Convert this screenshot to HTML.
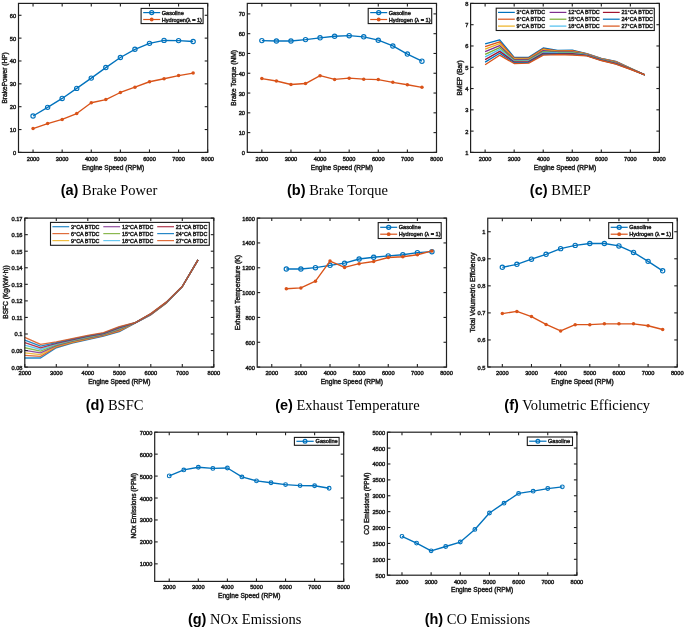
<!DOCTYPE html>
<html><head><meta charset="utf-8"><style>html,body{margin:0;padding:0;background:#fff;}svg{display:block;will-change:transform}</style></head>
<body><svg width="685" height="629" viewBox="0 0 685 629">
<rect width="685" height="629" fill="#fff"/>
<polyline points="33.05,116.03 47.61,107.35 62.16,98.44 76.72,88.38 91.27,78.10 105.82,67.58 120.38,57.53 134.93,49.30 149.48,43.36 164.04,40.39 178.59,40.62 193.15,41.53" fill="none" stroke="#0072BD" stroke-width="1.35" stroke-linejoin="round" stroke-opacity="1"/>
<circle cx="33.05" cy="116.03" r="2.15" fill="none" stroke="#0072BD" stroke-width="1.15"/>
<circle cx="47.61" cy="107.35" r="2.15" fill="none" stroke="#0072BD" stroke-width="1.15"/>
<circle cx="62.16" cy="98.44" r="2.15" fill="none" stroke="#0072BD" stroke-width="1.15"/>
<circle cx="76.72" cy="88.38" r="2.15" fill="none" stroke="#0072BD" stroke-width="1.15"/>
<circle cx="91.27" cy="78.10" r="2.15" fill="none" stroke="#0072BD" stroke-width="1.15"/>
<circle cx="105.82" cy="67.58" r="2.15" fill="none" stroke="#0072BD" stroke-width="1.15"/>
<circle cx="120.38" cy="57.53" r="2.15" fill="none" stroke="#0072BD" stroke-width="1.15"/>
<circle cx="134.93" cy="49.30" r="2.15" fill="none" stroke="#0072BD" stroke-width="1.15"/>
<circle cx="149.48" cy="43.36" r="2.15" fill="none" stroke="#0072BD" stroke-width="1.15"/>
<circle cx="164.04" cy="40.39" r="2.15" fill="none" stroke="#0072BD" stroke-width="1.15"/>
<circle cx="178.59" cy="40.62" r="2.15" fill="none" stroke="#0072BD" stroke-width="1.15"/>
<circle cx="193.15" cy="41.53" r="2.15" fill="none" stroke="#0072BD" stroke-width="1.15"/>
<polyline points="33.05,128.60 47.61,123.58 62.16,119.46 76.72,113.52 91.27,102.78 105.82,99.58 120.38,92.49 134.93,87.24 149.48,81.75 164.04,78.78 178.59,75.58 193.15,73.07" fill="none" stroke="#D95319" stroke-width="1.35" stroke-linejoin="round" stroke-opacity="1"/>
<circle cx="33.05" cy="128.60" r="1.75" fill="#D95319"/>
<circle cx="47.61" cy="123.58" r="1.75" fill="#D95319"/>
<circle cx="62.16" cy="119.46" r="1.75" fill="#D95319"/>
<circle cx="76.72" cy="113.52" r="1.75" fill="#D95319"/>
<circle cx="91.27" cy="102.78" r="1.75" fill="#D95319"/>
<circle cx="105.82" cy="99.58" r="1.75" fill="#D95319"/>
<circle cx="120.38" cy="92.49" r="1.75" fill="#D95319"/>
<circle cx="134.93" cy="87.24" r="1.75" fill="#D95319"/>
<circle cx="149.48" cy="81.75" r="1.75" fill="#D95319"/>
<circle cx="164.04" cy="78.78" r="1.75" fill="#D95319"/>
<circle cx="178.59" cy="75.58" r="1.75" fill="#D95319"/>
<circle cx="193.15" cy="73.07" r="1.75" fill="#D95319"/>
<rect x="18.5" y="3.4" width="189.2" height="149.0" fill="none" stroke="#202020" stroke-width="1.2"/>
<line x1="33.05" y1="152.4" x2="33.05" y2="149.4" stroke="#202020" stroke-width="1.1"/>
<line x1="33.05" y1="3.4" x2="33.05" y2="6.4" stroke="#202020" stroke-width="1.1"/>
<text x="33.05" y="160.60" font-family="Liberation Sans, sans-serif" stroke="#262626" stroke-width="0.45" font-size="5.7" text-anchor="middle" fill="#262626">2000</text>
<line x1="62.16" y1="152.4" x2="62.16" y2="149.4" stroke="#202020" stroke-width="1.1"/>
<line x1="62.16" y1="3.4" x2="62.16" y2="6.4" stroke="#202020" stroke-width="1.1"/>
<text x="62.16" y="160.60" font-family="Liberation Sans, sans-serif" stroke="#262626" stroke-width="0.45" font-size="5.7" text-anchor="middle" fill="#262626">3000</text>
<line x1="91.27" y1="152.4" x2="91.27" y2="149.4" stroke="#202020" stroke-width="1.1"/>
<line x1="91.27" y1="3.4" x2="91.27" y2="6.4" stroke="#202020" stroke-width="1.1"/>
<text x="91.27" y="160.60" font-family="Liberation Sans, sans-serif" stroke="#262626" stroke-width="0.45" font-size="5.7" text-anchor="middle" fill="#262626">4000</text>
<line x1="120.38" y1="152.4" x2="120.38" y2="149.4" stroke="#202020" stroke-width="1.1"/>
<line x1="120.38" y1="3.4" x2="120.38" y2="6.4" stroke="#202020" stroke-width="1.1"/>
<text x="120.38" y="160.60" font-family="Liberation Sans, sans-serif" stroke="#262626" stroke-width="0.45" font-size="5.7" text-anchor="middle" fill="#262626">5000</text>
<line x1="149.48" y1="152.4" x2="149.48" y2="149.4" stroke="#202020" stroke-width="1.1"/>
<line x1="149.48" y1="3.4" x2="149.48" y2="6.4" stroke="#202020" stroke-width="1.1"/>
<text x="149.48" y="160.60" font-family="Liberation Sans, sans-serif" stroke="#262626" stroke-width="0.45" font-size="5.7" text-anchor="middle" fill="#262626">6000</text>
<line x1="178.59" y1="152.4" x2="178.59" y2="149.4" stroke="#202020" stroke-width="1.1"/>
<line x1="178.59" y1="3.4" x2="178.59" y2="6.4" stroke="#202020" stroke-width="1.1"/>
<text x="178.59" y="160.60" font-family="Liberation Sans, sans-serif" stroke="#262626" stroke-width="0.45" font-size="5.7" text-anchor="middle" fill="#262626">7000</text>
<line x1="207.70" y1="152.4" x2="207.70" y2="149.4" stroke="#202020" stroke-width="1.1"/>
<line x1="207.70" y1="3.4" x2="207.70" y2="6.4" stroke="#202020" stroke-width="1.1"/>
<text x="207.70" y="160.60" font-family="Liberation Sans, sans-serif" stroke="#262626" stroke-width="0.45" font-size="5.7" text-anchor="middle" fill="#262626">8000</text>
<line x1="18.5" y1="152.40" x2="21.5" y2="152.40" stroke="#202020" stroke-width="1.1"/>
<line x1="207.7" y1="152.40" x2="204.7" y2="152.40" stroke="#202020" stroke-width="1.1"/>
<text x="16.20" y="154.90" font-family="Liberation Sans, sans-serif" stroke="#262626" stroke-width="0.45" font-size="5.7" text-anchor="end" fill="#262626">0</text>
<line x1="18.5" y1="129.55" x2="21.5" y2="129.55" stroke="#202020" stroke-width="1.1"/>
<line x1="207.7" y1="129.55" x2="204.7" y2="129.55" stroke="#202020" stroke-width="1.1"/>
<text x="16.20" y="132.05" font-family="Liberation Sans, sans-serif" stroke="#262626" stroke-width="0.45" font-size="5.7" text-anchor="end" fill="#262626">10</text>
<line x1="18.5" y1="106.69" x2="21.5" y2="106.69" stroke="#202020" stroke-width="1.1"/>
<line x1="207.7" y1="106.69" x2="204.7" y2="106.69" stroke="#202020" stroke-width="1.1"/>
<text x="16.20" y="109.19" font-family="Liberation Sans, sans-serif" stroke="#262626" stroke-width="0.45" font-size="5.7" text-anchor="end" fill="#262626">20</text>
<line x1="18.5" y1="83.84" x2="21.5" y2="83.84" stroke="#202020" stroke-width="1.1"/>
<line x1="207.7" y1="83.84" x2="204.7" y2="83.84" stroke="#202020" stroke-width="1.1"/>
<text x="16.20" y="86.34" font-family="Liberation Sans, sans-serif" stroke="#262626" stroke-width="0.45" font-size="5.7" text-anchor="end" fill="#262626">30</text>
<line x1="18.5" y1="60.98" x2="21.5" y2="60.98" stroke="#202020" stroke-width="1.1"/>
<line x1="207.7" y1="60.98" x2="204.7" y2="60.98" stroke="#202020" stroke-width="1.1"/>
<text x="16.20" y="63.48" font-family="Liberation Sans, sans-serif" stroke="#262626" stroke-width="0.45" font-size="5.7" text-anchor="end" fill="#262626">40</text>
<line x1="18.5" y1="38.13" x2="21.5" y2="38.13" stroke="#202020" stroke-width="1.1"/>
<line x1="207.7" y1="38.13" x2="204.7" y2="38.13" stroke="#202020" stroke-width="1.1"/>
<text x="16.20" y="40.63" font-family="Liberation Sans, sans-serif" stroke="#262626" stroke-width="0.45" font-size="5.7" text-anchor="end" fill="#262626">50</text>
<line x1="18.5" y1="15.28" x2="21.5" y2="15.28" stroke="#202020" stroke-width="1.1"/>
<line x1="207.7" y1="15.28" x2="204.7" y2="15.28" stroke="#202020" stroke-width="1.1"/>
<text x="16.20" y="17.78" font-family="Liberation Sans, sans-serif" stroke="#262626" stroke-width="0.45" font-size="5.7" text-anchor="end" fill="#262626">60</text>
<text x="113.10" y="169.60" font-family="Liberation Sans, sans-serif" stroke="#262626" stroke-width="0.45" font-size="6.60" letter-spacing="0.000" text-anchor="middle" fill="#262626">Engine Speed (RPM)</text>
<text transform="translate(6.90,77.90) rotate(-90)" x="0" y="0" font-family="Liberation Sans, sans-serif" stroke="#262626" stroke-width="0.45" font-size="6.60" letter-spacing="0.000" text-anchor="middle" fill="#262626">BrakePower (HP)</text>
<rect x="141.1" y="8.4" width="62" height="15.2" fill="#fff" stroke="#1a1a1a" stroke-width="1.1"/>
<line x1="143.2" y1="12.6" x2="160.2" y2="12.6" stroke="#0072BD" stroke-width="1.2" stroke-opacity="1"/>
<circle cx="151.7" cy="12.6" r="2.0" fill="none" stroke="#0072BD" stroke-width="1.3"/>
<text x="161.7" y="14.6" font-family="Liberation Sans, sans-serif" stroke="#262626" stroke-width="0.45" font-size="5.6" fill="#262626">Gasoline</text>
<line x1="143.2" y1="19.5" x2="160.2" y2="19.5" stroke="#D95319" stroke-width="1.2" stroke-opacity="1"/>
<circle cx="151.7" cy="19.5" r="1.9" fill="#D95319"/>
<text x="161.7" y="21.5" font-family="Liberation Sans, sans-serif" stroke="#262626" stroke-width="0.45" font-size="5.6" fill="#262626">Hydrogen(λ = 1)</text>
<text x="109" y="195" text-anchor="middle" fill="#000"><tspan font-family="Liberation Sans, sans-serif" font-weight="bold" font-size="14.5">(a)</tspan><tspan font-family="Liberation Serif, serif" font-size="14.5"> Brake Power</tspan></text>
<polyline points="261.85,40.61 276.41,41.00 290.96,41.00 305.52,39.62 320.07,37.84 334.62,36.25 349.18,35.66 363.73,36.85 378.28,40.21 392.84,45.95 407.39,54.06 421.95,61.19" fill="none" stroke="#0072BD" stroke-width="1.35" stroke-linejoin="round" stroke-opacity="1"/>
<circle cx="261.85" cy="40.61" r="2.15" fill="none" stroke="#0072BD" stroke-width="1.15"/>
<circle cx="276.41" cy="41.00" r="2.15" fill="none" stroke="#0072BD" stroke-width="1.15"/>
<circle cx="290.96" cy="41.00" r="2.15" fill="none" stroke="#0072BD" stroke-width="1.15"/>
<circle cx="305.52" cy="39.62" r="2.15" fill="none" stroke="#0072BD" stroke-width="1.15"/>
<circle cx="320.07" cy="37.84" r="2.15" fill="none" stroke="#0072BD" stroke-width="1.15"/>
<circle cx="334.62" cy="36.25" r="2.15" fill="none" stroke="#0072BD" stroke-width="1.15"/>
<circle cx="349.18" cy="35.66" r="2.15" fill="none" stroke="#0072BD" stroke-width="1.15"/>
<circle cx="363.73" cy="36.85" r="2.15" fill="none" stroke="#0072BD" stroke-width="1.15"/>
<circle cx="378.28" cy="40.21" r="2.15" fill="none" stroke="#0072BD" stroke-width="1.15"/>
<circle cx="392.84" cy="45.95" r="2.15" fill="none" stroke="#0072BD" stroke-width="1.15"/>
<circle cx="407.39" cy="54.06" r="2.15" fill="none" stroke="#0072BD" stroke-width="1.15"/>
<circle cx="421.95" cy="61.19" r="2.15" fill="none" stroke="#0072BD" stroke-width="1.15"/>
<polyline points="261.85,78.60 276.41,80.97 290.96,84.53 305.52,83.54 320.07,75.63 334.62,79.39 349.18,78.20 363.73,79.19 378.28,79.59 392.84,82.36 407.39,84.73 421.95,87.30" fill="none" stroke="#D95319" stroke-width="1.35" stroke-linejoin="round" stroke-opacity="1"/>
<circle cx="261.85" cy="78.60" r="1.75" fill="#D95319"/>
<circle cx="276.41" cy="80.97" r="1.75" fill="#D95319"/>
<circle cx="290.96" cy="84.53" r="1.75" fill="#D95319"/>
<circle cx="305.52" cy="83.54" r="1.75" fill="#D95319"/>
<circle cx="320.07" cy="75.63" r="1.75" fill="#D95319"/>
<circle cx="334.62" cy="79.39" r="1.75" fill="#D95319"/>
<circle cx="349.18" cy="78.20" r="1.75" fill="#D95319"/>
<circle cx="363.73" cy="79.19" r="1.75" fill="#D95319"/>
<circle cx="378.28" cy="79.59" r="1.75" fill="#D95319"/>
<circle cx="392.84" cy="82.36" r="1.75" fill="#D95319"/>
<circle cx="407.39" cy="84.73" r="1.75" fill="#D95319"/>
<circle cx="421.95" cy="87.30" r="1.75" fill="#D95319"/>
<rect x="247.3" y="3.4" width="189.2" height="149.0" fill="none" stroke="#202020" stroke-width="1.2"/>
<line x1="261.85" y1="152.4" x2="261.85" y2="149.4" stroke="#202020" stroke-width="1.1"/>
<line x1="261.85" y1="3.4" x2="261.85" y2="6.4" stroke="#202020" stroke-width="1.1"/>
<text x="261.85" y="160.60" font-family="Liberation Sans, sans-serif" stroke="#262626" stroke-width="0.45" font-size="5.7" text-anchor="middle" fill="#262626">2000</text>
<line x1="290.96" y1="152.4" x2="290.96" y2="149.4" stroke="#202020" stroke-width="1.1"/>
<line x1="290.96" y1="3.4" x2="290.96" y2="6.4" stroke="#202020" stroke-width="1.1"/>
<text x="290.96" y="160.60" font-family="Liberation Sans, sans-serif" stroke="#262626" stroke-width="0.45" font-size="5.7" text-anchor="middle" fill="#262626">3000</text>
<line x1="320.07" y1="152.4" x2="320.07" y2="149.4" stroke="#202020" stroke-width="1.1"/>
<line x1="320.07" y1="3.4" x2="320.07" y2="6.4" stroke="#202020" stroke-width="1.1"/>
<text x="320.07" y="160.60" font-family="Liberation Sans, sans-serif" stroke="#262626" stroke-width="0.45" font-size="5.7" text-anchor="middle" fill="#262626">4000</text>
<line x1="349.18" y1="152.4" x2="349.18" y2="149.4" stroke="#202020" stroke-width="1.1"/>
<line x1="349.18" y1="3.4" x2="349.18" y2="6.4" stroke="#202020" stroke-width="1.1"/>
<text x="349.18" y="160.60" font-family="Liberation Sans, sans-serif" stroke="#262626" stroke-width="0.45" font-size="5.7" text-anchor="middle" fill="#262626">5000</text>
<line x1="378.28" y1="152.4" x2="378.28" y2="149.4" stroke="#202020" stroke-width="1.1"/>
<line x1="378.28" y1="3.4" x2="378.28" y2="6.4" stroke="#202020" stroke-width="1.1"/>
<text x="378.28" y="160.60" font-family="Liberation Sans, sans-serif" stroke="#262626" stroke-width="0.45" font-size="5.7" text-anchor="middle" fill="#262626">6000</text>
<line x1="407.39" y1="152.4" x2="407.39" y2="149.4" stroke="#202020" stroke-width="1.1"/>
<line x1="407.39" y1="3.4" x2="407.39" y2="6.4" stroke="#202020" stroke-width="1.1"/>
<text x="407.39" y="160.60" font-family="Liberation Sans, sans-serif" stroke="#262626" stroke-width="0.45" font-size="5.7" text-anchor="middle" fill="#262626">7000</text>
<line x1="436.50" y1="152.4" x2="436.50" y2="149.4" stroke="#202020" stroke-width="1.1"/>
<line x1="436.50" y1="3.4" x2="436.50" y2="6.4" stroke="#202020" stroke-width="1.1"/>
<text x="436.50" y="160.60" font-family="Liberation Sans, sans-serif" stroke="#262626" stroke-width="0.45" font-size="5.7" text-anchor="middle" fill="#262626">8000</text>
<line x1="247.3" y1="152.40" x2="250.3" y2="152.40" stroke="#202020" stroke-width="1.1"/>
<line x1="436.5" y1="152.40" x2="433.5" y2="152.40" stroke="#202020" stroke-width="1.1"/>
<text x="245.00" y="154.90" font-family="Liberation Sans, sans-serif" stroke="#262626" stroke-width="0.45" font-size="5.7" text-anchor="end" fill="#262626">0</text>
<line x1="247.3" y1="132.61" x2="250.3" y2="132.61" stroke="#202020" stroke-width="1.1"/>
<line x1="436.5" y1="132.61" x2="433.5" y2="132.61" stroke="#202020" stroke-width="1.1"/>
<text x="245.00" y="135.11" font-family="Liberation Sans, sans-serif" stroke="#262626" stroke-width="0.45" font-size="5.7" text-anchor="end" fill="#262626">10</text>
<line x1="247.3" y1="112.83" x2="250.3" y2="112.83" stroke="#202020" stroke-width="1.1"/>
<line x1="436.5" y1="112.83" x2="433.5" y2="112.83" stroke="#202020" stroke-width="1.1"/>
<text x="245.00" y="115.33" font-family="Liberation Sans, sans-serif" stroke="#262626" stroke-width="0.45" font-size="5.7" text-anchor="end" fill="#262626">20</text>
<line x1="247.3" y1="93.04" x2="250.3" y2="93.04" stroke="#202020" stroke-width="1.1"/>
<line x1="436.5" y1="93.04" x2="433.5" y2="93.04" stroke="#202020" stroke-width="1.1"/>
<text x="245.00" y="95.54" font-family="Liberation Sans, sans-serif" stroke="#262626" stroke-width="0.45" font-size="5.7" text-anchor="end" fill="#262626">30</text>
<line x1="247.3" y1="73.25" x2="250.3" y2="73.25" stroke="#202020" stroke-width="1.1"/>
<line x1="436.5" y1="73.25" x2="433.5" y2="73.25" stroke="#202020" stroke-width="1.1"/>
<text x="245.00" y="75.75" font-family="Liberation Sans, sans-serif" stroke="#262626" stroke-width="0.45" font-size="5.7" text-anchor="end" fill="#262626">40</text>
<line x1="247.3" y1="53.47" x2="250.3" y2="53.47" stroke="#202020" stroke-width="1.1"/>
<line x1="436.5" y1="53.47" x2="433.5" y2="53.47" stroke="#202020" stroke-width="1.1"/>
<text x="245.00" y="55.97" font-family="Liberation Sans, sans-serif" stroke="#262626" stroke-width="0.45" font-size="5.7" text-anchor="end" fill="#262626">50</text>
<line x1="247.3" y1="33.68" x2="250.3" y2="33.68" stroke="#202020" stroke-width="1.1"/>
<line x1="436.5" y1="33.68" x2="433.5" y2="33.68" stroke="#202020" stroke-width="1.1"/>
<text x="245.00" y="36.18" font-family="Liberation Sans, sans-serif" stroke="#262626" stroke-width="0.45" font-size="5.7" text-anchor="end" fill="#262626">60</text>
<line x1="247.3" y1="13.89" x2="250.3" y2="13.89" stroke="#202020" stroke-width="1.1"/>
<line x1="436.5" y1="13.89" x2="433.5" y2="13.89" stroke="#202020" stroke-width="1.1"/>
<text x="245.00" y="16.39" font-family="Liberation Sans, sans-serif" stroke="#262626" stroke-width="0.45" font-size="5.7" text-anchor="end" fill="#262626">70</text>
<text x="341.90" y="169.60" font-family="Liberation Sans, sans-serif" stroke="#262626" stroke-width="0.45" font-size="6.60" letter-spacing="0.000" text-anchor="middle" fill="#262626">Engine Speed (RPM)</text>
<text transform="translate(236.00,77.90) rotate(-90)" x="0" y="0" font-family="Liberation Sans, sans-serif" stroke="#262626" stroke-width="0.45" font-size="6.60" letter-spacing="0.000" text-anchor="middle" fill="#262626">Brake Torque (NM)</text>
<rect x="368.2" y="8.4" width="63.5" height="15.2" fill="#fff" stroke="#1a1a1a" stroke-width="1.1"/>
<line x1="370.2" y1="12.6" x2="387.2" y2="12.6" stroke="#0072BD" stroke-width="1.2" stroke-opacity="1"/>
<circle cx="378.7" cy="12.6" r="2.0" fill="none" stroke="#0072BD" stroke-width="1.3"/>
<text x="388.7" y="14.6" font-family="Liberation Sans, sans-serif" stroke="#262626" stroke-width="0.45" font-size="5.6" fill="#262626">Gasoline</text>
<line x1="370.2" y1="19.5" x2="387.2" y2="19.5" stroke="#D95319" stroke-width="1.2" stroke-opacity="1"/>
<circle cx="378.7" cy="19.5" r="1.9" fill="#D95319"/>
<text x="388.7" y="21.5" font-family="Liberation Sans, sans-serif" stroke="#262626" stroke-width="0.45" font-size="5.6" fill="#262626">Hydrogen (λ = 1)</text>
<text x="337.5" y="195" text-anchor="middle" fill="#000"><tspan font-family="Liberation Sans, sans-serif" font-weight="bold" font-size="14.5">(b)</tspan><tspan font-family="Liberation Serif, serif" font-size="14.5"> Brake Torque</tspan></text>
<polyline points="485.12,43.92 499.65,39.87 514.17,57.33 528.69,57.33 543.22,47.96 557.74,50.52 572.26,50.09 586.78,53.71 601.31,58.39 615.83,61.37 630.35,68.18 644.88,74.78" fill="none" stroke="#0072BD" stroke-width="1.35" stroke-linejoin="round" stroke-opacity="1"/>
<polyline points="485.12,46.52 499.65,41.79 514.17,58.10 528.69,58.05 543.22,48.87 557.74,51.02 572.26,50.70 586.78,53.97 601.31,58.66 615.83,61.72 630.35,68.32 644.88,74.78" fill="none" stroke="#D95319" stroke-width="1.35" stroke-linejoin="round" stroke-opacity="1"/>
<polyline points="485.12,49.13 499.65,43.70 514.17,58.87 528.69,58.76 543.22,49.77 557.74,51.53 572.26,51.31 586.78,54.24 601.31,58.92 615.83,62.06 630.35,68.45 644.88,74.78" fill="none" stroke="#EDB120" stroke-width="1.35" stroke-linejoin="round" stroke-opacity="1"/>
<polyline points="485.12,51.74 499.65,45.62 514.17,59.64 528.69,59.48 543.22,50.68 557.74,52.03 572.26,51.93 586.78,54.51 601.31,59.19 615.83,62.41 630.35,68.58 644.88,74.78" fill="none" stroke="#7E2F8E" stroke-width="1.35" stroke-linejoin="round" stroke-opacity="1"/>
<polyline points="485.12,54.35 499.65,47.54 514.17,60.41 528.69,60.20 543.22,51.58 557.74,52.54 572.26,52.54 586.78,54.77 601.31,59.46 615.83,62.76 630.35,68.72 644.88,74.78" fill="none" stroke="#77AC30" stroke-width="1.35" stroke-linejoin="round" stroke-opacity="1"/>
<polyline points="485.12,56.95 499.65,49.45 514.17,61.19 528.69,60.92 543.22,52.48 557.74,53.04 572.26,53.15 586.78,55.04 601.31,59.72 615.83,63.10 630.35,68.85 644.88,74.78" fill="none" stroke="#4DBEEE" stroke-width="1.35" stroke-linejoin="round" stroke-opacity="1"/>
<polyline points="485.12,59.56 499.65,51.37 514.17,61.96 528.69,61.64 543.22,53.39 557.74,53.55 572.26,53.76 586.78,55.31 601.31,59.99 615.83,63.45 630.35,68.98 644.88,74.78" fill="none" stroke="#A2142F" stroke-width="1.35" stroke-linejoin="round" stroke-opacity="1"/>
<polyline points="485.12,62.17 499.65,53.28 514.17,62.73 528.69,62.36 543.22,54.29 557.74,54.05 572.26,54.37 586.78,55.57 601.31,60.25 615.83,63.79 630.35,69.11 644.88,74.78" fill="none" stroke="#0072BD" stroke-width="1.35" stroke-linejoin="round" stroke-opacity="1"/>
<polyline points="485.12,64.78 499.65,55.20 514.17,63.50 528.69,63.07 543.22,55.20 557.74,54.56 572.26,54.99 586.78,55.84 601.31,60.52 615.83,64.14 630.35,69.25 644.88,74.78" fill="none" stroke="#D95319" stroke-width="1.35" stroke-linejoin="round" stroke-opacity="1"/>
<rect x="470.6" y="3.4" width="188.79999999999995" height="149.0" fill="none" stroke="#202020" stroke-width="1.2"/>
<line x1="485.12" y1="152.4" x2="485.12" y2="149.4" stroke="#202020" stroke-width="1.1"/>
<line x1="485.12" y1="3.4" x2="485.12" y2="6.4" stroke="#202020" stroke-width="1.1"/>
<text x="485.12" y="160.60" font-family="Liberation Sans, sans-serif" stroke="#262626" stroke-width="0.45" font-size="5.7" text-anchor="middle" fill="#262626">2000</text>
<line x1="514.17" y1="152.4" x2="514.17" y2="149.4" stroke="#202020" stroke-width="1.1"/>
<line x1="514.17" y1="3.4" x2="514.17" y2="6.4" stroke="#202020" stroke-width="1.1"/>
<text x="514.17" y="160.60" font-family="Liberation Sans, sans-serif" stroke="#262626" stroke-width="0.45" font-size="5.7" text-anchor="middle" fill="#262626">3000</text>
<line x1="543.22" y1="152.4" x2="543.22" y2="149.4" stroke="#202020" stroke-width="1.1"/>
<line x1="543.22" y1="3.4" x2="543.22" y2="6.4" stroke="#202020" stroke-width="1.1"/>
<text x="543.22" y="160.60" font-family="Liberation Sans, sans-serif" stroke="#262626" stroke-width="0.45" font-size="5.7" text-anchor="middle" fill="#262626">4000</text>
<line x1="572.26" y1="152.4" x2="572.26" y2="149.4" stroke="#202020" stroke-width="1.1"/>
<line x1="572.26" y1="3.4" x2="572.26" y2="6.4" stroke="#202020" stroke-width="1.1"/>
<text x="572.26" y="160.60" font-family="Liberation Sans, sans-serif" stroke="#262626" stroke-width="0.45" font-size="5.7" text-anchor="middle" fill="#262626">5000</text>
<line x1="601.31" y1="152.4" x2="601.31" y2="149.4" stroke="#202020" stroke-width="1.1"/>
<line x1="601.31" y1="3.4" x2="601.31" y2="6.4" stroke="#202020" stroke-width="1.1"/>
<text x="601.31" y="160.60" font-family="Liberation Sans, sans-serif" stroke="#262626" stroke-width="0.45" font-size="5.7" text-anchor="middle" fill="#262626">6000</text>
<line x1="630.35" y1="152.4" x2="630.35" y2="149.4" stroke="#202020" stroke-width="1.1"/>
<line x1="630.35" y1="3.4" x2="630.35" y2="6.4" stroke="#202020" stroke-width="1.1"/>
<text x="630.35" y="160.60" font-family="Liberation Sans, sans-serif" stroke="#262626" stroke-width="0.45" font-size="5.7" text-anchor="middle" fill="#262626">7000</text>
<line x1="659.40" y1="152.4" x2="659.40" y2="149.4" stroke="#202020" stroke-width="1.1"/>
<line x1="659.40" y1="3.4" x2="659.40" y2="6.4" stroke="#202020" stroke-width="1.1"/>
<text x="659.40" y="160.60" font-family="Liberation Sans, sans-serif" stroke="#262626" stroke-width="0.45" font-size="5.7" text-anchor="middle" fill="#262626">8000</text>
<line x1="470.6" y1="152.40" x2="473.6" y2="152.40" stroke="#202020" stroke-width="1.1"/>
<line x1="659.4" y1="152.40" x2="656.4" y2="152.40" stroke="#202020" stroke-width="1.1"/>
<text x="468.30" y="154.90" font-family="Liberation Sans, sans-serif" stroke="#262626" stroke-width="0.45" font-size="5.7" text-anchor="end" fill="#262626">1</text>
<line x1="470.6" y1="131.11" x2="473.6" y2="131.11" stroke="#202020" stroke-width="1.1"/>
<line x1="659.4" y1="131.11" x2="656.4" y2="131.11" stroke="#202020" stroke-width="1.1"/>
<text x="468.30" y="133.61" font-family="Liberation Sans, sans-serif" stroke="#262626" stroke-width="0.45" font-size="5.7" text-anchor="end" fill="#262626">2</text>
<line x1="470.6" y1="109.83" x2="473.6" y2="109.83" stroke="#202020" stroke-width="1.1"/>
<line x1="659.4" y1="109.83" x2="656.4" y2="109.83" stroke="#202020" stroke-width="1.1"/>
<text x="468.30" y="112.33" font-family="Liberation Sans, sans-serif" stroke="#262626" stroke-width="0.45" font-size="5.7" text-anchor="end" fill="#262626">3</text>
<line x1="470.6" y1="88.54" x2="473.6" y2="88.54" stroke="#202020" stroke-width="1.1"/>
<line x1="659.4" y1="88.54" x2="656.4" y2="88.54" stroke="#202020" stroke-width="1.1"/>
<text x="468.30" y="91.04" font-family="Liberation Sans, sans-serif" stroke="#262626" stroke-width="0.45" font-size="5.7" text-anchor="end" fill="#262626">4</text>
<line x1="470.6" y1="67.26" x2="473.6" y2="67.26" stroke="#202020" stroke-width="1.1"/>
<line x1="659.4" y1="67.26" x2="656.4" y2="67.26" stroke="#202020" stroke-width="1.1"/>
<text x="468.30" y="69.76" font-family="Liberation Sans, sans-serif" stroke="#262626" stroke-width="0.45" font-size="5.7" text-anchor="end" fill="#262626">5</text>
<line x1="470.6" y1="45.97" x2="473.6" y2="45.97" stroke="#202020" stroke-width="1.1"/>
<line x1="659.4" y1="45.97" x2="656.4" y2="45.97" stroke="#202020" stroke-width="1.1"/>
<text x="468.30" y="48.47" font-family="Liberation Sans, sans-serif" stroke="#262626" stroke-width="0.45" font-size="5.7" text-anchor="end" fill="#262626">6</text>
<line x1="470.6" y1="24.69" x2="473.6" y2="24.69" stroke="#202020" stroke-width="1.1"/>
<line x1="659.4" y1="24.69" x2="656.4" y2="24.69" stroke="#202020" stroke-width="1.1"/>
<text x="468.30" y="27.19" font-family="Liberation Sans, sans-serif" stroke="#262626" stroke-width="0.45" font-size="5.7" text-anchor="end" fill="#262626">7</text>
<line x1="470.6" y1="3.40" x2="473.6" y2="3.40" stroke="#202020" stroke-width="1.1"/>
<line x1="659.4" y1="3.40" x2="656.4" y2="3.40" stroke="#202020" stroke-width="1.1"/>
<text x="468.30" y="5.90" font-family="Liberation Sans, sans-serif" stroke="#262626" stroke-width="0.45" font-size="5.7" text-anchor="end" fill="#262626">8</text>
<text x="565.00" y="169.60" font-family="Liberation Sans, sans-serif" stroke="#262626" stroke-width="0.45" font-size="6.60" letter-spacing="0.000" text-anchor="middle" fill="#262626">Engine Speed (RPM)</text>
<text transform="translate(462.00,77.90) rotate(-90)" x="0" y="0" font-family="Liberation Sans, sans-serif" stroke="#262626" stroke-width="0.45" font-size="6.60" letter-spacing="0.000" text-anchor="middle" fill="#262626">BMEP (Bar)</text>
<rect x="496.2" y="8.2" width="158.1" height="22.3" fill="#fff" stroke="#1a1a1a" stroke-width="1.1"/>
<line x1="498.0" y1="12.4" x2="514.8" y2="12.4" stroke="#0072BD" stroke-width="1.2" stroke-opacity="1"/>
<text x="516.5999999999999" y="14.4" font-family="Liberation Sans, sans-serif" stroke="#262626" stroke-width="0.45" font-size="5.4" fill="#262626">3°CA BTDC</text>
<line x1="498.0" y1="19.2" x2="514.8" y2="19.2" stroke="#D95319" stroke-width="1.2" stroke-opacity="1"/>
<text x="516.5999999999999" y="21.2" font-family="Liberation Sans, sans-serif" stroke="#262626" stroke-width="0.45" font-size="5.4" fill="#262626">6°CA BTDC</text>
<line x1="498.0" y1="26.1" x2="514.8" y2="26.1" stroke="#EDB120" stroke-width="1.2" stroke-opacity="1"/>
<text x="516.5999999999999" y="28.1" font-family="Liberation Sans, sans-serif" stroke="#262626" stroke-width="0.45" font-size="5.4" fill="#262626">9°CA BTDC</text>
<line x1="549.6" y1="12.4" x2="566.4" y2="12.4" stroke="#7E2F8E" stroke-width="1.2" stroke-opacity="1"/>
<text x="568.1999999999999" y="14.4" font-family="Liberation Sans, sans-serif" stroke="#262626" stroke-width="0.45" font-size="5.4" fill="#262626">12°CA BTDC</text>
<line x1="549.6" y1="19.2" x2="566.4" y2="19.2" stroke="#77AC30" stroke-width="1.2" stroke-opacity="1"/>
<text x="568.1999999999999" y="21.2" font-family="Liberation Sans, sans-serif" stroke="#262626" stroke-width="0.45" font-size="5.4" fill="#262626">15°CA BTDC</text>
<line x1="549.6" y1="26.1" x2="566.4" y2="26.1" stroke="#4DBEEE" stroke-width="1.2" stroke-opacity="1"/>
<text x="568.1999999999999" y="28.1" font-family="Liberation Sans, sans-serif" stroke="#262626" stroke-width="0.45" font-size="5.4" fill="#262626">18°CA BTDC</text>
<line x1="602.9" y1="12.4" x2="619.6999999999999" y2="12.4" stroke="#A2142F" stroke-width="1.2" stroke-opacity="1"/>
<text x="621.4999999999999" y="14.4" font-family="Liberation Sans, sans-serif" stroke="#262626" stroke-width="0.45" font-size="5.4" fill="#262626">21°CA BTDC</text>
<line x1="602.9" y1="19.2" x2="619.6999999999999" y2="19.2" stroke="#0072BD" stroke-width="1.2" stroke-opacity="1"/>
<text x="621.4999999999999" y="21.2" font-family="Liberation Sans, sans-serif" stroke="#262626" stroke-width="0.45" font-size="5.4" fill="#262626">24°CA BTDC</text>
<line x1="602.9" y1="26.1" x2="619.6999999999999" y2="26.1" stroke="#D95319" stroke-width="1.2" stroke-opacity="1"/>
<text x="621.4999999999999" y="28.1" font-family="Liberation Sans, sans-serif" stroke="#262626" stroke-width="0.45" font-size="5.4" fill="#262626">27°CA BTDC</text>
<text x="560.3" y="195" text-anchor="middle" fill="#000"><tspan font-family="Liberation Sans, sans-serif" font-weight="bold" font-size="14.5">(c)</tspan><tspan font-family="Liberation Serif, serif" font-size="14.5"> BMEP</tspan></text>
<polyline points="24.80,357.99 40.55,357.99 56.30,347.73 72.05,343.09 87.80,339.62 103.55,335.98 119.30,331.67 135.05,323.06 150.80,314.78 166.55,302.86 182.30,286.47 198.05,259.82" fill="none" stroke="#0072BD" stroke-width="1.35" stroke-linejoin="round" stroke-opacity="0.85"/>
<polyline points="24.80,355.43 40.55,356.30 56.30,347.01 72.05,342.54 87.80,339.08 103.55,335.56 119.30,331.03 135.05,323.02 150.80,314.64 166.55,302.74 182.30,286.47 198.05,259.82" fill="none" stroke="#D95319" stroke-width="1.35" stroke-linejoin="round" stroke-opacity="0.85"/>
<polyline points="24.80,352.86 40.55,354.60 56.30,346.28 72.05,341.98 87.80,338.54 103.55,335.15 119.30,330.39 135.05,322.98 150.80,314.49 166.55,302.62 182.30,286.47 198.05,259.82" fill="none" stroke="#EDB120" stroke-width="1.35" stroke-linejoin="round" stroke-opacity="0.85"/>
<polyline points="24.80,350.30 40.55,352.90 56.30,345.56 72.05,341.42 87.80,338.00 103.55,334.73 119.30,329.75 135.05,322.94 150.80,314.35 166.55,302.49 182.30,286.47 198.05,259.82" fill="none" stroke="#7E2F8E" stroke-width="1.35" stroke-linejoin="round" stroke-opacity="0.85"/>
<polyline points="24.80,347.73 40.55,351.21 56.30,344.83 72.05,340.86 87.80,337.47 103.55,334.32 119.30,329.11 135.05,322.90 150.80,314.21 166.55,302.37 182.30,286.47 198.05,259.82" fill="none" stroke="#77AC30" stroke-width="1.35" stroke-linejoin="round" stroke-opacity="0.85"/>
<polyline points="24.80,345.16 40.55,349.51 56.30,344.11 72.05,340.30 87.80,336.93 103.55,333.91 119.30,328.46 135.05,322.86 150.80,314.06 166.55,302.24 182.30,286.47 198.05,259.82" fill="none" stroke="#4DBEEE" stroke-width="1.35" stroke-linejoin="round" stroke-opacity="0.85"/>
<polyline points="24.80,342.60 40.55,347.81 56.30,343.38 72.05,339.74 87.80,336.39 103.55,333.49 119.30,327.82 135.05,322.81 150.80,313.92 166.55,302.12 182.30,286.47 198.05,259.82" fill="none" stroke="#A2142F" stroke-width="1.35" stroke-linejoin="round" stroke-opacity="0.85"/>
<polyline points="24.80,340.03 40.55,346.12 56.30,342.66 72.05,339.18 87.80,335.85 103.55,333.08 119.30,327.18 135.05,322.77 150.80,313.77 166.55,302.00 182.30,286.47 198.05,259.82" fill="none" stroke="#0072BD" stroke-width="1.35" stroke-linejoin="round" stroke-opacity="0.85"/>
<polyline points="24.80,337.47 40.55,344.42 56.30,341.94 72.05,338.62 87.80,335.31 103.55,332.66 119.30,326.54 135.05,322.73 150.80,313.63 166.55,301.87 182.30,286.47 198.05,259.82" fill="none" stroke="#D95319" stroke-width="1.35" stroke-linejoin="round" stroke-opacity="0.85"/>
<rect x="24.8" y="218.1" width="189.0" height="149.00000000000003" fill="none" stroke="#202020" stroke-width="1.2"/>
<line x1="24.80" y1="367.1" x2="24.80" y2="364.1" stroke="#202020" stroke-width="1.1"/>
<line x1="24.80" y1="218.1" x2="24.80" y2="221.1" stroke="#202020" stroke-width="1.1"/>
<text x="24.80" y="375.30" font-family="Liberation Sans, sans-serif" stroke="#262626" stroke-width="0.45" font-size="5.7" text-anchor="middle" fill="#262626">2000</text>
<line x1="56.30" y1="367.1" x2="56.30" y2="364.1" stroke="#202020" stroke-width="1.1"/>
<line x1="56.30" y1="218.1" x2="56.30" y2="221.1" stroke="#202020" stroke-width="1.1"/>
<text x="56.30" y="375.30" font-family="Liberation Sans, sans-serif" stroke="#262626" stroke-width="0.45" font-size="5.7" text-anchor="middle" fill="#262626">3000</text>
<line x1="87.80" y1="367.1" x2="87.80" y2="364.1" stroke="#202020" stroke-width="1.1"/>
<line x1="87.80" y1="218.1" x2="87.80" y2="221.1" stroke="#202020" stroke-width="1.1"/>
<text x="87.80" y="375.30" font-family="Liberation Sans, sans-serif" stroke="#262626" stroke-width="0.45" font-size="5.7" text-anchor="middle" fill="#262626">4000</text>
<line x1="119.30" y1="367.1" x2="119.30" y2="364.1" stroke="#202020" stroke-width="1.1"/>
<line x1="119.30" y1="218.1" x2="119.30" y2="221.1" stroke="#202020" stroke-width="1.1"/>
<text x="119.30" y="375.30" font-family="Liberation Sans, sans-serif" stroke="#262626" stroke-width="0.45" font-size="5.7" text-anchor="middle" fill="#262626">5000</text>
<line x1="150.80" y1="367.1" x2="150.80" y2="364.1" stroke="#202020" stroke-width="1.1"/>
<line x1="150.80" y1="218.1" x2="150.80" y2="221.1" stroke="#202020" stroke-width="1.1"/>
<text x="150.80" y="375.30" font-family="Liberation Sans, sans-serif" stroke="#262626" stroke-width="0.45" font-size="5.7" text-anchor="middle" fill="#262626">6000</text>
<line x1="182.30" y1="367.1" x2="182.30" y2="364.1" stroke="#202020" stroke-width="1.1"/>
<line x1="182.30" y1="218.1" x2="182.30" y2="221.1" stroke="#202020" stroke-width="1.1"/>
<text x="182.30" y="375.30" font-family="Liberation Sans, sans-serif" stroke="#262626" stroke-width="0.45" font-size="5.7" text-anchor="middle" fill="#262626">7000</text>
<line x1="213.80" y1="367.1" x2="213.80" y2="364.1" stroke="#202020" stroke-width="1.1"/>
<line x1="213.80" y1="218.1" x2="213.80" y2="221.1" stroke="#202020" stroke-width="1.1"/>
<text x="213.80" y="375.30" font-family="Liberation Sans, sans-serif" stroke="#262626" stroke-width="0.45" font-size="5.7" text-anchor="middle" fill="#262626">8000</text>
<line x1="24.8" y1="367.10" x2="27.8" y2="367.10" stroke="#202020" stroke-width="1.1"/>
<line x1="213.8" y1="367.10" x2="210.8" y2="367.10" stroke="#202020" stroke-width="1.1"/>
<text x="22.50" y="369.60" font-family="Liberation Sans, sans-serif" stroke="#262626" stroke-width="0.45" font-size="5.7" text-anchor="end" fill="#262626">0.08</text>
<line x1="24.8" y1="350.54" x2="27.8" y2="350.54" stroke="#202020" stroke-width="1.1"/>
<line x1="213.8" y1="350.54" x2="210.8" y2="350.54" stroke="#202020" stroke-width="1.1"/>
<text x="22.50" y="353.04" font-family="Liberation Sans, sans-serif" stroke="#262626" stroke-width="0.45" font-size="5.7" text-anchor="end" fill="#262626">0.09</text>
<line x1="24.8" y1="333.99" x2="27.8" y2="333.99" stroke="#202020" stroke-width="1.1"/>
<line x1="213.8" y1="333.99" x2="210.8" y2="333.99" stroke="#202020" stroke-width="1.1"/>
<text x="22.50" y="336.49" font-family="Liberation Sans, sans-serif" stroke="#262626" stroke-width="0.45" font-size="5.7" text-anchor="end" fill="#262626">0.1</text>
<line x1="24.8" y1="317.43" x2="27.8" y2="317.43" stroke="#202020" stroke-width="1.1"/>
<line x1="213.8" y1="317.43" x2="210.8" y2="317.43" stroke="#202020" stroke-width="1.1"/>
<text x="22.50" y="319.93" font-family="Liberation Sans, sans-serif" stroke="#262626" stroke-width="0.45" font-size="5.7" text-anchor="end" fill="#262626">0.11</text>
<line x1="24.8" y1="300.88" x2="27.8" y2="300.88" stroke="#202020" stroke-width="1.1"/>
<line x1="213.8" y1="300.88" x2="210.8" y2="300.88" stroke="#202020" stroke-width="1.1"/>
<text x="22.50" y="303.38" font-family="Liberation Sans, sans-serif" stroke="#262626" stroke-width="0.45" font-size="5.7" text-anchor="end" fill="#262626">0.12</text>
<line x1="24.8" y1="284.32" x2="27.8" y2="284.32" stroke="#202020" stroke-width="1.1"/>
<line x1="213.8" y1="284.32" x2="210.8" y2="284.32" stroke="#202020" stroke-width="1.1"/>
<text x="22.50" y="286.82" font-family="Liberation Sans, sans-serif" stroke="#262626" stroke-width="0.45" font-size="5.7" text-anchor="end" fill="#262626">0.13</text>
<line x1="24.8" y1="267.77" x2="27.8" y2="267.77" stroke="#202020" stroke-width="1.1"/>
<line x1="213.8" y1="267.77" x2="210.8" y2="267.77" stroke="#202020" stroke-width="1.1"/>
<text x="22.50" y="270.27" font-family="Liberation Sans, sans-serif" stroke="#262626" stroke-width="0.45" font-size="5.7" text-anchor="end" fill="#262626">0.14</text>
<line x1="24.8" y1="251.21" x2="27.8" y2="251.21" stroke="#202020" stroke-width="1.1"/>
<line x1="213.8" y1="251.21" x2="210.8" y2="251.21" stroke="#202020" stroke-width="1.1"/>
<text x="22.50" y="253.71" font-family="Liberation Sans, sans-serif" stroke="#262626" stroke-width="0.45" font-size="5.7" text-anchor="end" fill="#262626">0.15</text>
<line x1="24.8" y1="234.66" x2="27.8" y2="234.66" stroke="#202020" stroke-width="1.1"/>
<line x1="213.8" y1="234.66" x2="210.8" y2="234.66" stroke="#202020" stroke-width="1.1"/>
<text x="22.50" y="237.16" font-family="Liberation Sans, sans-serif" stroke="#262626" stroke-width="0.45" font-size="5.7" text-anchor="end" fill="#262626">0.16</text>
<line x1="24.8" y1="218.10" x2="27.8" y2="218.10" stroke="#202020" stroke-width="1.1"/>
<line x1="213.8" y1="218.10" x2="210.8" y2="218.10" stroke="#202020" stroke-width="1.1"/>
<text x="22.50" y="220.60" font-family="Liberation Sans, sans-serif" stroke="#262626" stroke-width="0.45" font-size="5.7" text-anchor="end" fill="#262626">0.17</text>
<text x="119.30" y="384.30" font-family="Liberation Sans, sans-serif" stroke="#262626" stroke-width="0.45" font-size="6.60" letter-spacing="0.000" text-anchor="middle" fill="#262626">Engine Speed (RPM)</text>
<text transform="translate(7.60,292.00) rotate(-90)" x="0" y="0" font-family="Liberation Sans, sans-serif" stroke="#262626" stroke-width="0.45" font-size="6.60" letter-spacing="0.000" text-anchor="middle" fill="#262626">BSFC (Kg/(kW·h))</text>
<rect x="50.5" y="222.4" width="158.8" height="22.9" fill="#fff" stroke="#1a1a1a" stroke-width="1.1"/>
<line x1="52.4" y1="226.7" x2="69.2" y2="226.7" stroke="#0072BD" stroke-width="1.2" stroke-opacity="0.85"/>
<text x="71.0" y="228.7" font-family="Liberation Sans, sans-serif" stroke="#262626" stroke-width="0.45" font-size="5.4" fill="#262626">3°CA BTDC</text>
<line x1="52.4" y1="233.6" x2="69.2" y2="233.6" stroke="#D95319" stroke-width="1.2" stroke-opacity="0.85"/>
<text x="71.0" y="235.6" font-family="Liberation Sans, sans-serif" stroke="#262626" stroke-width="0.45" font-size="5.4" fill="#262626">6°CA BTDC</text>
<line x1="52.4" y1="240.6" x2="69.2" y2="240.6" stroke="#EDB120" stroke-width="1.2" stroke-opacity="0.85"/>
<text x="71.0" y="242.6" font-family="Liberation Sans, sans-serif" stroke="#262626" stroke-width="0.45" font-size="5.4" fill="#262626">9°CA BTDC</text>
<line x1="103.3" y1="226.7" x2="120.1" y2="226.7" stroke="#7E2F8E" stroke-width="1.2" stroke-opacity="0.85"/>
<text x="121.89999999999999" y="228.7" font-family="Liberation Sans, sans-serif" stroke="#262626" stroke-width="0.45" font-size="5.4" fill="#262626">12°CA BTDC</text>
<line x1="103.3" y1="233.6" x2="120.1" y2="233.6" stroke="#77AC30" stroke-width="1.2" stroke-opacity="0.85"/>
<text x="121.89999999999999" y="235.6" font-family="Liberation Sans, sans-serif" stroke="#262626" stroke-width="0.45" font-size="5.4" fill="#262626">15°CA BTDC</text>
<line x1="103.3" y1="240.6" x2="120.1" y2="240.6" stroke="#4DBEEE" stroke-width="1.2" stroke-opacity="0.85"/>
<text x="121.89999999999999" y="242.6" font-family="Liberation Sans, sans-serif" stroke="#262626" stroke-width="0.45" font-size="5.4" fill="#262626">18°CA BTDC</text>
<line x1="157.2" y1="226.7" x2="174.0" y2="226.7" stroke="#A2142F" stroke-width="1.2" stroke-opacity="0.85"/>
<text x="175.8" y="228.7" font-family="Liberation Sans, sans-serif" stroke="#262626" stroke-width="0.45" font-size="5.4" fill="#262626">21°CA BTDC</text>
<line x1="157.2" y1="233.6" x2="174.0" y2="233.6" stroke="#0072BD" stroke-width="1.2" stroke-opacity="0.85"/>
<text x="175.8" y="235.6" font-family="Liberation Sans, sans-serif" stroke="#262626" stroke-width="0.45" font-size="5.4" fill="#262626">24°CA BTDC</text>
<line x1="157.2" y1="240.6" x2="174.0" y2="240.6" stroke="#D95319" stroke-width="1.2" stroke-opacity="0.85"/>
<text x="175.8" y="242.6" font-family="Liberation Sans, sans-serif" stroke="#262626" stroke-width="0.45" font-size="5.4" fill="#262626">27°CA BTDC</text>
<text x="114.6" y="410" text-anchor="middle" fill="#000"><tspan font-family="Liberation Sans, sans-serif" font-weight="bold" font-size="14.5">(d)</tspan><tspan font-family="Liberation Serif, serif" font-size="14.5"> BSFC</tspan></text>
<polyline points="286.32,269.04 300.88,269.04 315.45,267.67 330.01,265.31 344.57,263.20 359.13,258.98 373.69,257.24 388.25,255.87 402.82,254.76 417.38,252.65 431.94,251.65" fill="none" stroke="#0072BD" stroke-width="1.35" stroke-linejoin="round" stroke-opacity="1"/>
<circle cx="286.32" cy="269.04" r="2.15" fill="none" stroke="#0072BD" stroke-width="1.15"/>
<circle cx="300.88" cy="269.04" r="2.15" fill="none" stroke="#0072BD" stroke-width="1.15"/>
<circle cx="315.45" cy="267.67" r="2.15" fill="none" stroke="#0072BD" stroke-width="1.15"/>
<circle cx="330.01" cy="265.31" r="2.15" fill="none" stroke="#0072BD" stroke-width="1.15"/>
<circle cx="344.57" cy="263.20" r="2.15" fill="none" stroke="#0072BD" stroke-width="1.15"/>
<circle cx="359.13" cy="258.98" r="2.15" fill="none" stroke="#0072BD" stroke-width="1.15"/>
<circle cx="373.69" cy="257.24" r="2.15" fill="none" stroke="#0072BD" stroke-width="1.15"/>
<circle cx="388.25" cy="255.87" r="2.15" fill="none" stroke="#0072BD" stroke-width="1.15"/>
<circle cx="402.82" cy="254.76" r="2.15" fill="none" stroke="#0072BD" stroke-width="1.15"/>
<circle cx="417.38" cy="252.65" r="2.15" fill="none" stroke="#0072BD" stroke-width="1.15"/>
<circle cx="431.94" cy="251.65" r="2.15" fill="none" stroke="#0072BD" stroke-width="1.15"/>
<polyline points="286.32,288.78 300.88,287.91 315.45,281.20 330.01,261.09 344.57,267.42 359.13,263.70 373.69,261.46 388.25,257.49 402.82,256.74 417.38,254.76 431.94,250.91" fill="none" stroke="#D95319" stroke-width="1.35" stroke-linejoin="round" stroke-opacity="1"/>
<circle cx="286.32" cy="288.78" r="1.75" fill="#D95319"/>
<circle cx="300.88" cy="287.91" r="1.75" fill="#D95319"/>
<circle cx="315.45" cy="281.20" r="1.75" fill="#D95319"/>
<circle cx="330.01" cy="261.09" r="1.75" fill="#D95319"/>
<circle cx="344.57" cy="267.42" r="1.75" fill="#D95319"/>
<circle cx="359.13" cy="263.70" r="1.75" fill="#D95319"/>
<circle cx="373.69" cy="261.46" r="1.75" fill="#D95319"/>
<circle cx="388.25" cy="257.49" r="1.75" fill="#D95319"/>
<circle cx="402.82" cy="256.74" r="1.75" fill="#D95319"/>
<circle cx="417.38" cy="254.76" r="1.75" fill="#D95319"/>
<circle cx="431.94" cy="250.91" r="1.75" fill="#D95319"/>
<rect x="257.2" y="218.1" width="189.3" height="149.00000000000003" fill="none" stroke="#202020" stroke-width="1.2"/>
<line x1="271.76" y1="367.1" x2="271.76" y2="364.1" stroke="#202020" stroke-width="1.1"/>
<line x1="271.76" y1="218.1" x2="271.76" y2="221.1" stroke="#202020" stroke-width="1.1"/>
<text x="271.76" y="375.30" font-family="Liberation Sans, sans-serif" stroke="#262626" stroke-width="0.45" font-size="5.7" text-anchor="middle" fill="#262626">2000</text>
<line x1="300.88" y1="367.1" x2="300.88" y2="364.1" stroke="#202020" stroke-width="1.1"/>
<line x1="300.88" y1="218.1" x2="300.88" y2="221.1" stroke="#202020" stroke-width="1.1"/>
<text x="300.88" y="375.30" font-family="Liberation Sans, sans-serif" stroke="#262626" stroke-width="0.45" font-size="5.7" text-anchor="middle" fill="#262626">3000</text>
<line x1="330.01" y1="367.1" x2="330.01" y2="364.1" stroke="#202020" stroke-width="1.1"/>
<line x1="330.01" y1="218.1" x2="330.01" y2="221.1" stroke="#202020" stroke-width="1.1"/>
<text x="330.01" y="375.30" font-family="Liberation Sans, sans-serif" stroke="#262626" stroke-width="0.45" font-size="5.7" text-anchor="middle" fill="#262626">4000</text>
<line x1="359.13" y1="367.1" x2="359.13" y2="364.1" stroke="#202020" stroke-width="1.1"/>
<line x1="359.13" y1="218.1" x2="359.13" y2="221.1" stroke="#202020" stroke-width="1.1"/>
<text x="359.13" y="375.30" font-family="Liberation Sans, sans-serif" stroke="#262626" stroke-width="0.45" font-size="5.7" text-anchor="middle" fill="#262626">5000</text>
<line x1="388.25" y1="367.1" x2="388.25" y2="364.1" stroke="#202020" stroke-width="1.1"/>
<line x1="388.25" y1="218.1" x2="388.25" y2="221.1" stroke="#202020" stroke-width="1.1"/>
<text x="388.25" y="375.30" font-family="Liberation Sans, sans-serif" stroke="#262626" stroke-width="0.45" font-size="5.7" text-anchor="middle" fill="#262626">6000</text>
<line x1="417.38" y1="367.1" x2="417.38" y2="364.1" stroke="#202020" stroke-width="1.1"/>
<line x1="417.38" y1="218.1" x2="417.38" y2="221.1" stroke="#202020" stroke-width="1.1"/>
<text x="417.38" y="375.30" font-family="Liberation Sans, sans-serif" stroke="#262626" stroke-width="0.45" font-size="5.7" text-anchor="middle" fill="#262626">7000</text>
<line x1="446.50" y1="367.1" x2="446.50" y2="364.1" stroke="#202020" stroke-width="1.1"/>
<line x1="446.50" y1="218.1" x2="446.50" y2="221.1" stroke="#202020" stroke-width="1.1"/>
<text x="446.50" y="375.30" font-family="Liberation Sans, sans-serif" stroke="#262626" stroke-width="0.45" font-size="5.7" text-anchor="middle" fill="#262626">8000</text>
<line x1="257.2" y1="367.10" x2="260.2" y2="367.10" stroke="#202020" stroke-width="1.1"/>
<line x1="446.5" y1="367.10" x2="443.5" y2="367.10" stroke="#202020" stroke-width="1.1"/>
<text x="254.90" y="369.60" font-family="Liberation Sans, sans-serif" stroke="#262626" stroke-width="0.45" font-size="5.7" text-anchor="end" fill="#262626">400</text>
<line x1="257.2" y1="342.27" x2="260.2" y2="342.27" stroke="#202020" stroke-width="1.1"/>
<line x1="446.5" y1="342.27" x2="443.5" y2="342.27" stroke="#202020" stroke-width="1.1"/>
<text x="254.90" y="344.77" font-family="Liberation Sans, sans-serif" stroke="#262626" stroke-width="0.45" font-size="5.7" text-anchor="end" fill="#262626">600</text>
<line x1="257.2" y1="317.43" x2="260.2" y2="317.43" stroke="#202020" stroke-width="1.1"/>
<line x1="446.5" y1="317.43" x2="443.5" y2="317.43" stroke="#202020" stroke-width="1.1"/>
<text x="254.90" y="319.93" font-family="Liberation Sans, sans-serif" stroke="#262626" stroke-width="0.45" font-size="5.7" text-anchor="end" fill="#262626">800</text>
<line x1="257.2" y1="292.60" x2="260.2" y2="292.60" stroke="#202020" stroke-width="1.1"/>
<line x1="446.5" y1="292.60" x2="443.5" y2="292.60" stroke="#202020" stroke-width="1.1"/>
<text x="254.90" y="295.10" font-family="Liberation Sans, sans-serif" stroke="#262626" stroke-width="0.45" font-size="5.7" text-anchor="end" fill="#262626">1000</text>
<line x1="257.2" y1="267.77" x2="260.2" y2="267.77" stroke="#202020" stroke-width="1.1"/>
<line x1="446.5" y1="267.77" x2="443.5" y2="267.77" stroke="#202020" stroke-width="1.1"/>
<text x="254.90" y="270.27" font-family="Liberation Sans, sans-serif" stroke="#262626" stroke-width="0.45" font-size="5.7" text-anchor="end" fill="#262626">1200</text>
<line x1="257.2" y1="242.93" x2="260.2" y2="242.93" stroke="#202020" stroke-width="1.1"/>
<line x1="446.5" y1="242.93" x2="443.5" y2="242.93" stroke="#202020" stroke-width="1.1"/>
<text x="254.90" y="245.43" font-family="Liberation Sans, sans-serif" stroke="#262626" stroke-width="0.45" font-size="5.7" text-anchor="end" fill="#262626">1400</text>
<line x1="257.2" y1="218.10" x2="260.2" y2="218.10" stroke="#202020" stroke-width="1.1"/>
<line x1="446.5" y1="218.10" x2="443.5" y2="218.10" stroke="#202020" stroke-width="1.1"/>
<text x="254.90" y="220.60" font-family="Liberation Sans, sans-serif" stroke="#262626" stroke-width="0.45" font-size="5.7" text-anchor="end" fill="#262626">1600</text>
<text x="351.85" y="384.30" font-family="Liberation Sans, sans-serif" stroke="#262626" stroke-width="0.45" font-size="6.60" letter-spacing="0.000" text-anchor="middle" fill="#262626">Engine Speed (RPM)</text>
<text transform="translate(240.00,292.60) rotate(-90)" x="0" y="0" font-family="Liberation Sans, sans-serif" stroke="#262626" stroke-width="0.45" font-size="6.80" letter-spacing="0.000" text-anchor="middle" fill="#262626">Exhaust Temperature (K)</text>
<rect x="378.2" y="222.6" width="63" height="15.9" fill="#fff" stroke="#1a1a1a" stroke-width="1.1"/>
<line x1="380.2" y1="227.3" x2="397.2" y2="227.3" stroke="#0072BD" stroke-width="1.2" stroke-opacity="1"/>
<circle cx="388.7" cy="227.3" r="2.0" fill="none" stroke="#0072BD" stroke-width="1.3"/>
<text x="398.7" y="229.3" font-family="Liberation Sans, sans-serif" stroke="#262626" stroke-width="0.45" font-size="5.6" fill="#262626">Gasoline</text>
<line x1="380.2" y1="234.2" x2="397.2" y2="234.2" stroke="#D95319" stroke-width="1.2" stroke-opacity="1"/>
<circle cx="388.7" cy="234.2" r="1.9" fill="#D95319"/>
<text x="398.7" y="236.2" font-family="Liberation Sans, sans-serif" stroke="#262626" stroke-width="0.45" font-size="5.6" fill="#262626">Hydrogen (λ = 1)</text>
<text x="347.4" y="410" text-anchor="middle" fill="#000"><tspan font-family="Liberation Sans, sans-serif" font-weight="bold" font-size="14.5">(e)</tspan><tspan font-family="Liberation Serif, serif" font-size="14.5"> Exhaust Temperature</tspan></text>
<polyline points="502.33,267.30 516.90,264.32 531.48,259.18 546.06,254.31 560.63,248.63 575.21,245.38 589.79,243.49 604.37,243.49 618.94,245.93 633.52,252.42 648.10,261.35 662.67,270.82" fill="none" stroke="#0072BD" stroke-width="1.35" stroke-linejoin="round" stroke-opacity="1"/>
<circle cx="502.33" cy="267.30" r="2.15" fill="none" stroke="#0072BD" stroke-width="1.15"/>
<circle cx="516.90" cy="264.32" r="2.15" fill="none" stroke="#0072BD" stroke-width="1.15"/>
<circle cx="531.48" cy="259.18" r="2.15" fill="none" stroke="#0072BD" stroke-width="1.15"/>
<circle cx="546.06" cy="254.31" r="2.15" fill="none" stroke="#0072BD" stroke-width="1.15"/>
<circle cx="560.63" cy="248.63" r="2.15" fill="none" stroke="#0072BD" stroke-width="1.15"/>
<circle cx="575.21" cy="245.38" r="2.15" fill="none" stroke="#0072BD" stroke-width="1.15"/>
<circle cx="589.79" cy="243.49" r="2.15" fill="none" stroke="#0072BD" stroke-width="1.15"/>
<circle cx="604.37" cy="243.49" r="2.15" fill="none" stroke="#0072BD" stroke-width="1.15"/>
<circle cx="618.94" cy="245.93" r="2.15" fill="none" stroke="#0072BD" stroke-width="1.15"/>
<circle cx="633.52" cy="252.42" r="2.15" fill="none" stroke="#0072BD" stroke-width="1.15"/>
<circle cx="648.10" cy="261.35" r="2.15" fill="none" stroke="#0072BD" stroke-width="1.15"/>
<circle cx="662.67" cy="270.82" r="2.15" fill="none" stroke="#0072BD" stroke-width="1.15"/>
<polyline points="502.33,313.56 516.90,311.40 531.48,316.54 546.06,324.38 560.63,330.88 575.21,324.65 589.79,324.65 604.37,323.84 618.94,323.84 633.52,323.84 648.10,325.74 662.67,329.52" fill="none" stroke="#D95319" stroke-width="1.35" stroke-linejoin="round" stroke-opacity="1"/>
<circle cx="502.33" cy="313.56" r="1.75" fill="#D95319"/>
<circle cx="516.90" cy="311.40" r="1.75" fill="#D95319"/>
<circle cx="531.48" cy="316.54" r="1.75" fill="#D95319"/>
<circle cx="546.06" cy="324.38" r="1.75" fill="#D95319"/>
<circle cx="560.63" cy="330.88" r="1.75" fill="#D95319"/>
<circle cx="575.21" cy="324.65" r="1.75" fill="#D95319"/>
<circle cx="589.79" cy="324.65" r="1.75" fill="#D95319"/>
<circle cx="604.37" cy="323.84" r="1.75" fill="#D95319"/>
<circle cx="618.94" cy="323.84" r="1.75" fill="#D95319"/>
<circle cx="633.52" cy="323.84" r="1.75" fill="#D95319"/>
<circle cx="648.10" cy="325.74" r="1.75" fill="#D95319"/>
<circle cx="662.67" cy="329.52" r="1.75" fill="#D95319"/>
<rect x="487.75" y="218.2" width="189.5" height="148.8" fill="none" stroke="#202020" stroke-width="1.2"/>
<line x1="502.33" y1="367.0" x2="502.33" y2="364.0" stroke="#202020" stroke-width="1.1"/>
<line x1="502.33" y1="218.2" x2="502.33" y2="221.2" stroke="#202020" stroke-width="1.1"/>
<text x="502.33" y="375.20" font-family="Liberation Sans, sans-serif" stroke="#262626" stroke-width="0.45" font-size="5.7" text-anchor="middle" fill="#262626">2000</text>
<line x1="531.48" y1="367.0" x2="531.48" y2="364.0" stroke="#202020" stroke-width="1.1"/>
<line x1="531.48" y1="218.2" x2="531.48" y2="221.2" stroke="#202020" stroke-width="1.1"/>
<text x="531.48" y="375.20" font-family="Liberation Sans, sans-serif" stroke="#262626" stroke-width="0.45" font-size="5.7" text-anchor="middle" fill="#262626">3000</text>
<line x1="560.63" y1="367.0" x2="560.63" y2="364.0" stroke="#202020" stroke-width="1.1"/>
<line x1="560.63" y1="218.2" x2="560.63" y2="221.2" stroke="#202020" stroke-width="1.1"/>
<text x="560.63" y="375.20" font-family="Liberation Sans, sans-serif" stroke="#262626" stroke-width="0.45" font-size="5.7" text-anchor="middle" fill="#262626">4000</text>
<line x1="589.79" y1="367.0" x2="589.79" y2="364.0" stroke="#202020" stroke-width="1.1"/>
<line x1="589.79" y1="218.2" x2="589.79" y2="221.2" stroke="#202020" stroke-width="1.1"/>
<text x="589.79" y="375.20" font-family="Liberation Sans, sans-serif" stroke="#262626" stroke-width="0.45" font-size="5.7" text-anchor="middle" fill="#262626">5000</text>
<line x1="618.94" y1="367.0" x2="618.94" y2="364.0" stroke="#202020" stroke-width="1.1"/>
<line x1="618.94" y1="218.2" x2="618.94" y2="221.2" stroke="#202020" stroke-width="1.1"/>
<text x="618.94" y="375.20" font-family="Liberation Sans, sans-serif" stroke="#262626" stroke-width="0.45" font-size="5.7" text-anchor="middle" fill="#262626">6000</text>
<line x1="648.10" y1="367.0" x2="648.10" y2="364.0" stroke="#202020" stroke-width="1.1"/>
<line x1="648.10" y1="218.2" x2="648.10" y2="221.2" stroke="#202020" stroke-width="1.1"/>
<text x="648.10" y="375.20" font-family="Liberation Sans, sans-serif" stroke="#262626" stroke-width="0.45" font-size="5.7" text-anchor="middle" fill="#262626">7000</text>
<line x1="677.25" y1="367.0" x2="677.25" y2="364.0" stroke="#202020" stroke-width="1.1"/>
<line x1="677.25" y1="218.2" x2="677.25" y2="221.2" stroke="#202020" stroke-width="1.1"/>
<text x="677.25" y="375.20" font-family="Liberation Sans, sans-serif" stroke="#262626" stroke-width="0.45" font-size="5.7" text-anchor="middle" fill="#262626">8000</text>
<line x1="487.75" y1="367.00" x2="490.75" y2="367.00" stroke="#202020" stroke-width="1.1"/>
<line x1="677.25" y1="367.00" x2="674.25" y2="367.00" stroke="#202020" stroke-width="1.1"/>
<text x="485.45" y="369.50" font-family="Liberation Sans, sans-serif" stroke="#262626" stroke-width="0.45" font-size="5.7" text-anchor="end" fill="#262626">0.5</text>
<line x1="487.75" y1="339.95" x2="490.75" y2="339.95" stroke="#202020" stroke-width="1.1"/>
<line x1="677.25" y1="339.95" x2="674.25" y2="339.95" stroke="#202020" stroke-width="1.1"/>
<text x="485.45" y="342.45" font-family="Liberation Sans, sans-serif" stroke="#262626" stroke-width="0.45" font-size="5.7" text-anchor="end" fill="#262626">0.6</text>
<line x1="487.75" y1="312.89" x2="490.75" y2="312.89" stroke="#202020" stroke-width="1.1"/>
<line x1="677.25" y1="312.89" x2="674.25" y2="312.89" stroke="#202020" stroke-width="1.1"/>
<text x="485.45" y="315.39" font-family="Liberation Sans, sans-serif" stroke="#262626" stroke-width="0.45" font-size="5.7" text-anchor="end" fill="#262626">0.7</text>
<line x1="487.75" y1="285.84" x2="490.75" y2="285.84" stroke="#202020" stroke-width="1.1"/>
<line x1="677.25" y1="285.84" x2="674.25" y2="285.84" stroke="#202020" stroke-width="1.1"/>
<text x="485.45" y="288.34" font-family="Liberation Sans, sans-serif" stroke="#262626" stroke-width="0.45" font-size="5.7" text-anchor="end" fill="#262626">0.8</text>
<line x1="487.75" y1="258.78" x2="490.75" y2="258.78" stroke="#202020" stroke-width="1.1"/>
<line x1="677.25" y1="258.78" x2="674.25" y2="258.78" stroke="#202020" stroke-width="1.1"/>
<text x="485.45" y="261.28" font-family="Liberation Sans, sans-serif" stroke="#262626" stroke-width="0.45" font-size="5.7" text-anchor="end" fill="#262626">0.9</text>
<line x1="487.75" y1="231.73" x2="490.75" y2="231.73" stroke="#202020" stroke-width="1.1"/>
<line x1="677.25" y1="231.73" x2="674.25" y2="231.73" stroke="#202020" stroke-width="1.1"/>
<text x="485.45" y="234.23" font-family="Liberation Sans, sans-serif" stroke="#262626" stroke-width="0.45" font-size="5.7" text-anchor="end" fill="#262626">1</text>
<text x="582.50" y="384.20" font-family="Liberation Sans, sans-serif" stroke="#262626" stroke-width="0.45" font-size="6.60" letter-spacing="0.000" text-anchor="middle" fill="#262626">Engine Speed (RPM)</text>
<text transform="translate(474.60,292.60) rotate(-90)" x="0" y="0" font-family="Liberation Sans, sans-serif" stroke="#262626" stroke-width="0.45" font-size="6.90" letter-spacing="0.000" text-anchor="middle" fill="#262626">Total Volumetric Efficiency</text>
<rect x="608.7" y="222.6" width="63.9" height="15.9" fill="#fff" stroke="#1a1a1a" stroke-width="1.1"/>
<line x1="610.7" y1="227.3" x2="627.7" y2="227.3" stroke="#0072BD" stroke-width="1.2" stroke-opacity="1"/>
<circle cx="619.2" cy="227.3" r="2.0" fill="none" stroke="#0072BD" stroke-width="1.3"/>
<text x="629.2" y="229.3" font-family="Liberation Sans, sans-serif" stroke="#262626" stroke-width="0.45" font-size="5.6" fill="#262626">Gasoline</text>
<line x1="610.7" y1="234.2" x2="627.7" y2="234.2" stroke="#D95319" stroke-width="1.2" stroke-opacity="1"/>
<circle cx="619.2" cy="234.2" r="1.9" fill="#D95319"/>
<text x="629.2" y="236.2" font-family="Liberation Sans, sans-serif" stroke="#262626" stroke-width="0.45" font-size="5.6" fill="#262626">Hydrogen (λ = 1)</text>
<text x="577.2" y="410" text-anchor="middle" fill="#000"><tspan font-family="Liberation Sans, sans-serif" font-weight="bold" font-size="14.5">(f)</tspan><tspan font-family="Liberation Serif, serif" font-size="14.5"> Volumetric Efficiency</tspan></text>
<polyline points="169.24,475.89 183.78,469.92 198.32,467.25 212.85,468.43 227.39,468.04 241.93,476.90 256.47,480.85 271.01,482.76 285.55,484.56 300.08,485.57 314.62,485.77 329.16,488.25" fill="none" stroke="#0072BD" stroke-width="1.35" stroke-linejoin="round" stroke-opacity="1"/>
<circle cx="169.24" cy="475.89" r="1.85" fill="none" stroke="#0072BD" stroke-width="1.15"/>
<circle cx="183.78" cy="469.92" r="1.85" fill="none" stroke="#0072BD" stroke-width="1.15"/>
<circle cx="198.32" cy="467.25" r="1.85" fill="none" stroke="#0072BD" stroke-width="1.15"/>
<circle cx="212.85" cy="468.43" r="1.85" fill="none" stroke="#0072BD" stroke-width="1.15"/>
<circle cx="227.39" cy="468.04" r="1.85" fill="none" stroke="#0072BD" stroke-width="1.15"/>
<circle cx="241.93" cy="476.90" r="1.85" fill="none" stroke="#0072BD" stroke-width="1.15"/>
<circle cx="256.47" cy="480.85" r="1.85" fill="none" stroke="#0072BD" stroke-width="1.15"/>
<circle cx="271.01" cy="482.76" r="1.85" fill="none" stroke="#0072BD" stroke-width="1.15"/>
<circle cx="285.55" cy="484.56" r="1.85" fill="none" stroke="#0072BD" stroke-width="1.15"/>
<circle cx="300.08" cy="485.57" r="1.85" fill="none" stroke="#0072BD" stroke-width="1.15"/>
<circle cx="314.62" cy="485.77" r="1.85" fill="none" stroke="#0072BD" stroke-width="1.15"/>
<circle cx="329.16" cy="488.25" r="1.85" fill="none" stroke="#0072BD" stroke-width="1.15"/>
<rect x="154.7" y="432.2" width="189.0" height="149.2" fill="none" stroke="#202020" stroke-width="1.2"/>
<line x1="169.24" y1="581.4" x2="169.24" y2="578.4" stroke="#202020" stroke-width="1.1"/>
<line x1="169.24" y1="432.2" x2="169.24" y2="435.2" stroke="#202020" stroke-width="1.1"/>
<text x="169.24" y="589.20" font-family="Liberation Sans, sans-serif" stroke="#262626" stroke-width="0.45" font-size="5.7" text-anchor="middle" fill="#262626">2000</text>
<line x1="198.32" y1="581.4" x2="198.32" y2="578.4" stroke="#202020" stroke-width="1.1"/>
<line x1="198.32" y1="432.2" x2="198.32" y2="435.2" stroke="#202020" stroke-width="1.1"/>
<text x="198.32" y="589.20" font-family="Liberation Sans, sans-serif" stroke="#262626" stroke-width="0.45" font-size="5.7" text-anchor="middle" fill="#262626">3000</text>
<line x1="227.39" y1="581.4" x2="227.39" y2="578.4" stroke="#202020" stroke-width="1.1"/>
<line x1="227.39" y1="432.2" x2="227.39" y2="435.2" stroke="#202020" stroke-width="1.1"/>
<text x="227.39" y="589.20" font-family="Liberation Sans, sans-serif" stroke="#262626" stroke-width="0.45" font-size="5.7" text-anchor="middle" fill="#262626">4000</text>
<line x1="256.47" y1="581.4" x2="256.47" y2="578.4" stroke="#202020" stroke-width="1.1"/>
<line x1="256.47" y1="432.2" x2="256.47" y2="435.2" stroke="#202020" stroke-width="1.1"/>
<text x="256.47" y="589.20" font-family="Liberation Sans, sans-serif" stroke="#262626" stroke-width="0.45" font-size="5.7" text-anchor="middle" fill="#262626">5000</text>
<line x1="285.55" y1="581.4" x2="285.55" y2="578.4" stroke="#202020" stroke-width="1.1"/>
<line x1="285.55" y1="432.2" x2="285.55" y2="435.2" stroke="#202020" stroke-width="1.1"/>
<text x="285.55" y="589.20" font-family="Liberation Sans, sans-serif" stroke="#262626" stroke-width="0.45" font-size="5.7" text-anchor="middle" fill="#262626">6000</text>
<line x1="314.62" y1="581.4" x2="314.62" y2="578.4" stroke="#202020" stroke-width="1.1"/>
<line x1="314.62" y1="432.2" x2="314.62" y2="435.2" stroke="#202020" stroke-width="1.1"/>
<text x="314.62" y="589.20" font-family="Liberation Sans, sans-serif" stroke="#262626" stroke-width="0.45" font-size="5.7" text-anchor="middle" fill="#262626">7000</text>
<line x1="343.70" y1="581.4" x2="343.70" y2="578.4" stroke="#202020" stroke-width="1.1"/>
<line x1="343.70" y1="432.2" x2="343.70" y2="435.2" stroke="#202020" stroke-width="1.1"/>
<text x="343.70" y="589.20" font-family="Liberation Sans, sans-serif" stroke="#262626" stroke-width="0.45" font-size="5.7" text-anchor="middle" fill="#262626">8000</text>
<line x1="154.7" y1="563.85" x2="157.7" y2="563.85" stroke="#202020" stroke-width="1.1"/>
<line x1="343.7" y1="563.85" x2="340.7" y2="563.85" stroke="#202020" stroke-width="1.1"/>
<text x="152.40" y="566.35" font-family="Liberation Sans, sans-serif" stroke="#262626" stroke-width="0.45" font-size="5.7" text-anchor="end" fill="#262626">1000</text>
<line x1="154.7" y1="541.91" x2="157.7" y2="541.91" stroke="#202020" stroke-width="1.1"/>
<line x1="343.7" y1="541.91" x2="340.7" y2="541.91" stroke="#202020" stroke-width="1.1"/>
<text x="152.40" y="544.41" font-family="Liberation Sans, sans-serif" stroke="#262626" stroke-width="0.45" font-size="5.7" text-anchor="end" fill="#262626">2000</text>
<line x1="154.7" y1="519.96" x2="157.7" y2="519.96" stroke="#202020" stroke-width="1.1"/>
<line x1="343.7" y1="519.96" x2="340.7" y2="519.96" stroke="#202020" stroke-width="1.1"/>
<text x="152.40" y="522.46" font-family="Liberation Sans, sans-serif" stroke="#262626" stroke-width="0.45" font-size="5.7" text-anchor="end" fill="#262626">3000</text>
<line x1="154.7" y1="498.02" x2="157.7" y2="498.02" stroke="#202020" stroke-width="1.1"/>
<line x1="343.7" y1="498.02" x2="340.7" y2="498.02" stroke="#202020" stroke-width="1.1"/>
<text x="152.40" y="500.52" font-family="Liberation Sans, sans-serif" stroke="#262626" stroke-width="0.45" font-size="5.7" text-anchor="end" fill="#262626">4000</text>
<line x1="154.7" y1="476.08" x2="157.7" y2="476.08" stroke="#202020" stroke-width="1.1"/>
<line x1="343.7" y1="476.08" x2="340.7" y2="476.08" stroke="#202020" stroke-width="1.1"/>
<text x="152.40" y="478.58" font-family="Liberation Sans, sans-serif" stroke="#262626" stroke-width="0.45" font-size="5.7" text-anchor="end" fill="#262626">5000</text>
<line x1="154.7" y1="454.14" x2="157.7" y2="454.14" stroke="#202020" stroke-width="1.1"/>
<line x1="343.7" y1="454.14" x2="340.7" y2="454.14" stroke="#202020" stroke-width="1.1"/>
<text x="152.40" y="456.64" font-family="Liberation Sans, sans-serif" stroke="#262626" stroke-width="0.45" font-size="5.7" text-anchor="end" fill="#262626">6000</text>
<line x1="154.7" y1="432.20" x2="157.7" y2="432.20" stroke="#202020" stroke-width="1.1"/>
<line x1="343.7" y1="432.20" x2="340.7" y2="432.20" stroke="#202020" stroke-width="1.1"/>
<text x="152.40" y="434.70" font-family="Liberation Sans, sans-serif" stroke="#262626" stroke-width="0.45" font-size="5.7" text-anchor="end" fill="#262626">7000</text>
<text x="249.20" y="597.80" font-family="Liberation Sans, sans-serif" stroke="#262626" stroke-width="0.45" font-size="6.60" letter-spacing="0.000" text-anchor="middle" fill="#262626">Engine Speed (RPM)</text>
<text transform="translate(135.50,505.80) rotate(-90)" x="0" y="0" font-family="Liberation Sans, sans-serif" stroke="#262626" stroke-width="0.45" font-size="6.60" letter-spacing="0.000" text-anchor="middle" fill="#262626">NOx Emissions (PPM)</text>
<rect x="294.4" y="437.4" width="44.7" height="7.9" fill="#fff" stroke="#1a1a1a" stroke-width="1.1"/>
<line x1="296.4" y1="441.3" x2="313.7" y2="441.3" stroke="#0072BD" stroke-width="1.2" stroke-opacity="1"/>
<circle cx="305.04999999999995" cy="441.3" r="1.85" fill="none" stroke="#0072BD" stroke-width="1.3"/>
<text x="315.59999999999997" y="443.3" font-family="Liberation Sans, sans-serif" stroke="#262626" stroke-width="0.45" font-size="5.6" fill="#262626">Gasoline</text>
<text x="244.7" y="624" text-anchor="middle" fill="#000"><tspan font-family="Liberation Sans, sans-serif" font-weight="bold" font-size="14.5">(g)</tspan><tspan font-family="Liberation Serif, serif" font-size="14.5"> NOx Emissions</tspan></text>
<polyline points="401.98,536.34 416.55,543.11 431.13,550.83 445.71,546.51 460.28,542.03 474.86,529.44 489.44,512.95 504.02,503.16 518.59,493.41 533.17,491.15 547.75,488.55 562.32,486.86" fill="none" stroke="#0072BD" stroke-width="1.35" stroke-linejoin="round" stroke-opacity="1"/>
<circle cx="401.98" cy="536.34" r="1.85" fill="none" stroke="#0072BD" stroke-width="1.15"/>
<circle cx="416.55" cy="543.11" r="1.85" fill="none" stroke="#0072BD" stroke-width="1.15"/>
<circle cx="431.13" cy="550.83" r="1.85" fill="none" stroke="#0072BD" stroke-width="1.15"/>
<circle cx="445.71" cy="546.51" r="1.85" fill="none" stroke="#0072BD" stroke-width="1.15"/>
<circle cx="460.28" cy="542.03" r="1.85" fill="none" stroke="#0072BD" stroke-width="1.15"/>
<circle cx="474.86" cy="529.44" r="1.85" fill="none" stroke="#0072BD" stroke-width="1.15"/>
<circle cx="489.44" cy="512.95" r="1.85" fill="none" stroke="#0072BD" stroke-width="1.15"/>
<circle cx="504.02" cy="503.16" r="1.85" fill="none" stroke="#0072BD" stroke-width="1.15"/>
<circle cx="518.59" cy="493.41" r="1.85" fill="none" stroke="#0072BD" stroke-width="1.15"/>
<circle cx="533.17" cy="491.15" r="1.85" fill="none" stroke="#0072BD" stroke-width="1.15"/>
<circle cx="547.75" cy="488.55" r="1.85" fill="none" stroke="#0072BD" stroke-width="1.15"/>
<circle cx="562.32" cy="486.86" r="1.85" fill="none" stroke="#0072BD" stroke-width="1.15"/>
<rect x="387.4" y="432.2" width="189.5" height="143.00000000000006" fill="none" stroke="#202020" stroke-width="1.2"/>
<line x1="401.98" y1="575.2" x2="401.98" y2="572.2" stroke="#202020" stroke-width="1.1"/>
<line x1="401.98" y1="432.2" x2="401.98" y2="435.2" stroke="#202020" stroke-width="1.1"/>
<text x="401.98" y="584.00" font-family="Liberation Sans, sans-serif" stroke="#262626" stroke-width="0.45" font-size="5.7" text-anchor="middle" fill="#262626">2000</text>
<line x1="431.13" y1="575.2" x2="431.13" y2="572.2" stroke="#202020" stroke-width="1.1"/>
<line x1="431.13" y1="432.2" x2="431.13" y2="435.2" stroke="#202020" stroke-width="1.1"/>
<text x="431.13" y="584.00" font-family="Liberation Sans, sans-serif" stroke="#262626" stroke-width="0.45" font-size="5.7" text-anchor="middle" fill="#262626">3000</text>
<line x1="460.28" y1="575.2" x2="460.28" y2="572.2" stroke="#202020" stroke-width="1.1"/>
<line x1="460.28" y1="432.2" x2="460.28" y2="435.2" stroke="#202020" stroke-width="1.1"/>
<text x="460.28" y="584.00" font-family="Liberation Sans, sans-serif" stroke="#262626" stroke-width="0.45" font-size="5.7" text-anchor="middle" fill="#262626">4000</text>
<line x1="489.44" y1="575.2" x2="489.44" y2="572.2" stroke="#202020" stroke-width="1.1"/>
<line x1="489.44" y1="432.2" x2="489.44" y2="435.2" stroke="#202020" stroke-width="1.1"/>
<text x="489.44" y="584.00" font-family="Liberation Sans, sans-serif" stroke="#262626" stroke-width="0.45" font-size="5.7" text-anchor="middle" fill="#262626">5000</text>
<line x1="518.59" y1="575.2" x2="518.59" y2="572.2" stroke="#202020" stroke-width="1.1"/>
<line x1="518.59" y1="432.2" x2="518.59" y2="435.2" stroke="#202020" stroke-width="1.1"/>
<text x="518.59" y="584.00" font-family="Liberation Sans, sans-serif" stroke="#262626" stroke-width="0.45" font-size="5.7" text-anchor="middle" fill="#262626">6000</text>
<line x1="547.75" y1="575.2" x2="547.75" y2="572.2" stroke="#202020" stroke-width="1.1"/>
<line x1="547.75" y1="432.2" x2="547.75" y2="435.2" stroke="#202020" stroke-width="1.1"/>
<text x="547.75" y="584.00" font-family="Liberation Sans, sans-serif" stroke="#262626" stroke-width="0.45" font-size="5.7" text-anchor="middle" fill="#262626">7000</text>
<line x1="576.90" y1="575.2" x2="576.90" y2="572.2" stroke="#202020" stroke-width="1.1"/>
<line x1="576.90" y1="432.2" x2="576.90" y2="435.2" stroke="#202020" stroke-width="1.1"/>
<text x="576.90" y="584.00" font-family="Liberation Sans, sans-serif" stroke="#262626" stroke-width="0.45" font-size="5.7" text-anchor="middle" fill="#262626">8000</text>
<line x1="387.4" y1="575.20" x2="390.4" y2="575.20" stroke="#202020" stroke-width="1.1"/>
<line x1="576.9" y1="575.20" x2="573.9" y2="575.20" stroke="#202020" stroke-width="1.1"/>
<text x="385.10" y="577.70" font-family="Liberation Sans, sans-serif" stroke="#262626" stroke-width="0.45" font-size="5.7" text-anchor="end" fill="#262626">500</text>
<line x1="387.4" y1="559.31" x2="390.4" y2="559.31" stroke="#202020" stroke-width="1.1"/>
<line x1="576.9" y1="559.31" x2="573.9" y2="559.31" stroke="#202020" stroke-width="1.1"/>
<text x="385.10" y="561.81" font-family="Liberation Sans, sans-serif" stroke="#262626" stroke-width="0.45" font-size="5.7" text-anchor="end" fill="#262626">1000</text>
<line x1="387.4" y1="543.42" x2="390.4" y2="543.42" stroke="#202020" stroke-width="1.1"/>
<line x1="576.9" y1="543.42" x2="573.9" y2="543.42" stroke="#202020" stroke-width="1.1"/>
<text x="385.10" y="545.92" font-family="Liberation Sans, sans-serif" stroke="#262626" stroke-width="0.45" font-size="5.7" text-anchor="end" fill="#262626">1500</text>
<line x1="387.4" y1="527.53" x2="390.4" y2="527.53" stroke="#202020" stroke-width="1.1"/>
<line x1="576.9" y1="527.53" x2="573.9" y2="527.53" stroke="#202020" stroke-width="1.1"/>
<text x="385.10" y="530.03" font-family="Liberation Sans, sans-serif" stroke="#262626" stroke-width="0.45" font-size="5.7" text-anchor="end" fill="#262626">2000</text>
<line x1="387.4" y1="511.64" x2="390.4" y2="511.64" stroke="#202020" stroke-width="1.1"/>
<line x1="576.9" y1="511.64" x2="573.9" y2="511.64" stroke="#202020" stroke-width="1.1"/>
<text x="385.10" y="514.14" font-family="Liberation Sans, sans-serif" stroke="#262626" stroke-width="0.45" font-size="5.7" text-anchor="end" fill="#262626">2500</text>
<line x1="387.4" y1="495.76" x2="390.4" y2="495.76" stroke="#202020" stroke-width="1.1"/>
<line x1="576.9" y1="495.76" x2="573.9" y2="495.76" stroke="#202020" stroke-width="1.1"/>
<text x="385.10" y="498.26" font-family="Liberation Sans, sans-serif" stroke="#262626" stroke-width="0.45" font-size="5.7" text-anchor="end" fill="#262626">3000</text>
<line x1="387.4" y1="479.87" x2="390.4" y2="479.87" stroke="#202020" stroke-width="1.1"/>
<line x1="576.9" y1="479.87" x2="573.9" y2="479.87" stroke="#202020" stroke-width="1.1"/>
<text x="385.10" y="482.37" font-family="Liberation Sans, sans-serif" stroke="#262626" stroke-width="0.45" font-size="5.7" text-anchor="end" fill="#262626">3500</text>
<line x1="387.4" y1="463.98" x2="390.4" y2="463.98" stroke="#202020" stroke-width="1.1"/>
<line x1="576.9" y1="463.98" x2="573.9" y2="463.98" stroke="#202020" stroke-width="1.1"/>
<text x="385.10" y="466.48" font-family="Liberation Sans, sans-serif" stroke="#262626" stroke-width="0.45" font-size="5.7" text-anchor="end" fill="#262626">4000</text>
<line x1="387.4" y1="448.09" x2="390.4" y2="448.09" stroke="#202020" stroke-width="1.1"/>
<line x1="576.9" y1="448.09" x2="573.9" y2="448.09" stroke="#202020" stroke-width="1.1"/>
<text x="385.10" y="450.59" font-family="Liberation Sans, sans-serif" stroke="#262626" stroke-width="0.45" font-size="5.7" text-anchor="end" fill="#262626">4500</text>
<line x1="387.4" y1="432.20" x2="390.4" y2="432.20" stroke="#202020" stroke-width="1.1"/>
<line x1="576.9" y1="432.20" x2="573.9" y2="432.20" stroke="#202020" stroke-width="1.1"/>
<text x="385.10" y="434.70" font-family="Liberation Sans, sans-serif" stroke="#262626" stroke-width="0.45" font-size="5.7" text-anchor="end" fill="#262626">5000</text>
<text x="482.15" y="592.40" font-family="Liberation Sans, sans-serif" stroke="#262626" stroke-width="0.45" font-size="6.60" letter-spacing="0.000" text-anchor="middle" fill="#262626">Engine Speed (RPM)</text>
<text transform="translate(369.00,503.70) rotate(-90)" x="0" y="0" font-family="Liberation Sans, sans-serif" stroke="#262626" stroke-width="0.45" font-size="6.60" letter-spacing="0.000" text-anchor="middle" fill="#262626">CO Emissions (PPM)</text>
<rect x="527.3" y="437.0" width="45.2" height="8.5" fill="#fff" stroke="#1a1a1a" stroke-width="1.1"/>
<line x1="529.2" y1="441.2" x2="546.5" y2="441.2" stroke="#0072BD" stroke-width="1.2" stroke-opacity="1"/>
<circle cx="537.85" cy="441.2" r="1.85" fill="none" stroke="#0072BD" stroke-width="1.3"/>
<text x="548.0" y="443.2" font-family="Liberation Sans, sans-serif" stroke="#262626" stroke-width="0.45" font-size="5.6" fill="#262626">Gasoline</text>
<text x="477.4" y="624" text-anchor="middle" fill="#000"><tspan font-family="Liberation Sans, sans-serif" font-weight="bold" font-size="14.5">(h)</tspan><tspan font-family="Liberation Serif, serif" font-size="14.5"> CO Emissions</tspan></text>
</svg></body></html>
